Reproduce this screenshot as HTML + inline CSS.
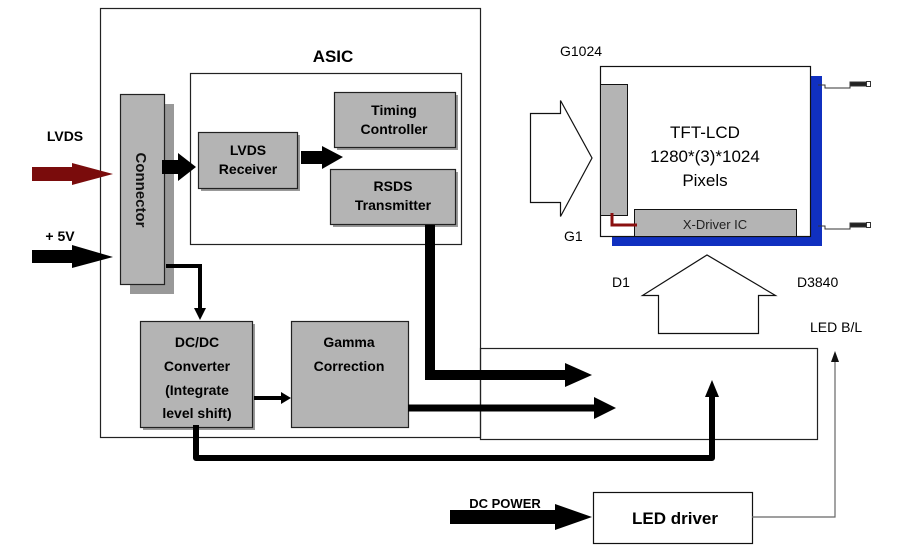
<!DOCTYPE html>
<html><head><meta charset="utf-8"><style>
html,body{margin:0;padding:0;background:#fff;}
svg{display:block;font-family:"Liberation Sans",Arial,sans-serif;}
.b{font-weight:bold;}
</style></head><body>
<svg width="900" height="552" viewBox="0 0 900 552" xmlns="http://www.w3.org/2000/svg">
<!-- ASIC -->
<rect x="100.5" y="8.5" width="380" height="429" fill="none" stroke="#222" stroke-width="1.2"/>
<text x="333" y="62" class="b" font-size="17" text-anchor="middle">ASIC</text>
<rect x="190.5" y="73.5" width="271" height="171" fill="none" stroke="#222" stroke-width="1.2"/>
<!-- connector -->
<rect x="130" y="104" width="44" height="190" fill="#999"/>
<rect x="120.5" y="94.5" width="44" height="190" fill="#b4b4b4" stroke="#222" stroke-width="1.2"/>
<text transform="translate(136,190) rotate(90)" class="b" font-size="15" text-anchor="middle" fill="#111">Connector</text>
<!-- LVDS receiver -->
<rect x="201" y="135" width="99" height="56" fill="#999"/>
<rect x="198.5" y="132.5" width="99" height="56" fill="#b4b4b4" stroke="#222" stroke-width="1.2"/>
<text x="248" y="155" class="b" font-size="14" text-anchor="middle">LVDS</text>
<text x="248" y="174" class="b" font-size="14" text-anchor="middle">Receiver</text>
<!-- Timing -->
<rect x="337" y="95" width="121" height="55" fill="#999"/>
<rect x="334.5" y="92.5" width="121" height="55" fill="#b4b4b4" stroke="#222" stroke-width="1.2"/>
<text x="394" y="115" class="b" font-size="14" text-anchor="middle">Timing</text>
<text x="394" y="134" class="b" font-size="14" text-anchor="middle">Controller</text>
<!-- RSDS -->
<rect x="333" y="172" width="125" height="55" fill="#999"/>
<rect x="330.5" y="169.5" width="125" height="55" fill="#b4b4b4" stroke="#222" stroke-width="1.2"/>
<text x="393" y="191" class="b" font-size="14" text-anchor="middle">RSDS</text>
<text x="393" y="210" class="b" font-size="14" text-anchor="middle">Transmitter</text>
<!-- DC/DC -->
<rect x="143" y="324" width="112" height="106" fill="#999"/>
<rect x="140.5" y="321.5" width="112" height="106" fill="#b4b4b4" stroke="#222" stroke-width="1.2"/>
<g class="b" font-size="14" text-anchor="middle">
<text x="197" y="347">DC/DC</text>
<text x="197" y="371">Converter</text>
<text x="197" y="395">(Integrate</text>
<text x="197" y="418">level shift)</text>
</g>
<!-- Gamma -->
<rect x="291.5" y="321.5" width="117" height="106" fill="#b4b4b4" stroke="#222" stroke-width="1.2"/>
<text x="349" y="347" class="b" font-size="14" text-anchor="middle">Gamma</text>
<text x="349" y="371" class="b" font-size="14" text-anchor="middle">Correction</text>
<!-- right box -->
<rect x="480.5" y="348.5" width="337" height="91" fill="none" stroke="#222" stroke-width="1.2"/>
<!-- input arrows -->
<text x="65" y="141" class="b" font-size="14" text-anchor="middle">LVDS</text>
<polygon points="32,167 72,167 72,163 113,174 72,185 72,181 32,181" fill="#7a0c0c"/>
<text x="60" y="241" class="b" font-size="14" text-anchor="middle">+ 5V</text>
<polygon points="32,250 72,250 72,245 113,257 72,268 72,263 32,263" fill="#000"/>
<!-- connector -> receiver -->
<polygon points="162,160 178,160 178,153 196,167 178,181 178,174 162,174" fill="#000"/>
<polygon points="301,151 322,151 322,146 343,157 322,169 322,164 301,164" fill="#000"/>
<!-- connector down -->
<polyline points="166,266 200,266 200,310" fill="none" stroke="#000" stroke-width="4"/>
<polygon points="194,308 206,308 200,320" fill="#000"/>
<!-- RSDS thick -->
<polyline points="430,225 430,375 568,375" fill="none" stroke="#000" stroke-width="10"/>
<polygon points="565,363 592,375 565,387" fill="#000"/>
<!-- DC->Gamma -->
<line x1="254" y1="398" x2="282" y2="398" stroke="#000" stroke-width="4"/>
<polygon points="281,392 291,398 281,404" fill="#000"/>
<!-- Gamma out -->
<line x1="408" y1="408" x2="596" y2="408" stroke="#000" stroke-width="7"/>
<polygon points="594,397 616,408 594,419" fill="#000"/>
<!-- bottom line -->
<polyline points="196,425 196,458 712,458 712,395" fill="none" stroke="#000" stroke-width="6" stroke-linejoin="round"/>
<polygon points="705,397 712,380 719,397" fill="#000"/>
<!-- LCD -->
<rect x="810" y="76" width="12" height="170" fill="#1030c0"/>
<rect x="612" y="236" width="210" height="10" fill="#1030c0"/>
<rect x="600.5" y="66.5" width="210" height="170" fill="#fff" stroke="#111" stroke-width="1.2"/>
<rect x="600.5" y="84.5" width="27" height="131" fill="#b4b4b4" stroke="#111" stroke-width="1"/>
<rect x="634.5" y="209.5" width="162" height="27" fill="#b4b4b4" stroke="#111" stroke-width="1"/>
<text x="715" y="229" font-size="13" text-anchor="middle" fill="#222">X-Driver IC</text>
<polyline points="612,213 612,225 637,225" fill="none" stroke="#8a1010" stroke-width="3"/>
<text x="705" y="138" font-size="17" text-anchor="middle">TFT-LCD</text>
<text x="705" y="162" font-size="17" text-anchor="middle">1280*(3)*1024</text>
<text x="705" y="186" font-size="17" text-anchor="middle">Pixels</text>
<!-- cables -->
<g fill="none" stroke="#333" stroke-width="1">
<polyline points="818,85 825,85 825,88 850,88 850,83 862,83"/>
<rect x="850" y="82" width="17" height="4" fill="#222"/>
<rect x="866.5" y="81.5" width="4" height="5" fill="#fff"/>
<polyline points="818,226 825,226 825,229 850,229 850,224 862,224"/>
<rect x="850" y="223" width="17" height="4" fill="#222"/>
<rect x="866.5" y="222.5" width="4" height="5" fill="#fff"/>
</g>
<!-- hollow arrows -->
<polygon points="530.5,113.5 560.5,113.5 560.5,100.5 592,158 560.5,216.5 560.5,202.5 530.5,202.5" fill="#fff" stroke="#111" stroke-width="1.2"/>
<polygon points="658.5,333.5 658.5,295.5 642.5,295.5 707,255 775.5,295.5 758.5,295.5 758.5,333.5" fill="#fff" stroke="#111" stroke-width="1.2"/>
<g font-size="14">
<text x="560" y="56">G1024</text>
<text x="564" y="241">G1</text>
<text x="612" y="287">D1</text>
<text x="797" y="287">D3840</text>
<text x="810" y="332">LED B/L</text>
</g>
<!-- LED driver -->
<rect x="593.5" y="492.5" width="159" height="51" fill="#fff" stroke="#111" stroke-width="1.2"/>
<text x="675" y="524" class="b" font-size="17" text-anchor="middle">LED driver</text>
<text x="505" y="508" class="b" font-size="13" text-anchor="middle">DC POWER</text>
<polygon points="450,510 555,510 555,504 592,517 555,530 555,524 450,524" fill="#000"/>
<polyline points="752,517 835,517 835,360" fill="none" stroke="#666" stroke-width="1.2"/>
<polygon points="831,362 835,351 839,362" fill="#111"/>
</svg>
</body></html>
